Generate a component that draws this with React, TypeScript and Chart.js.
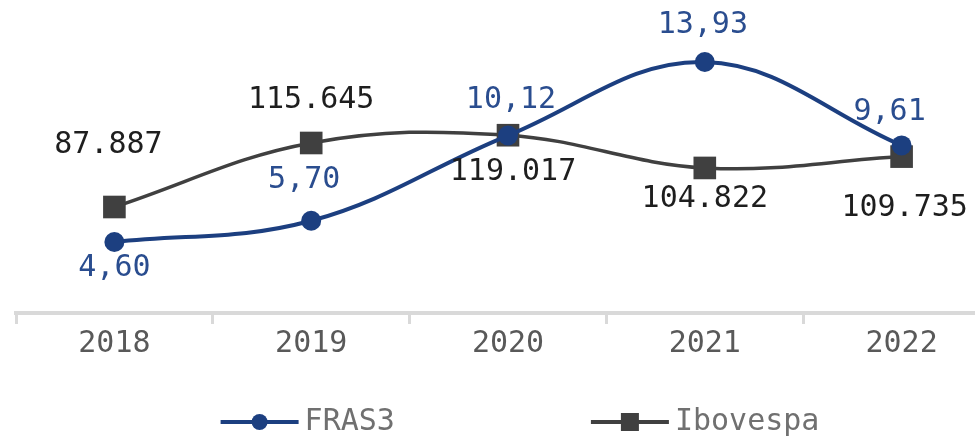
import React, { useEffect, useRef } from "react";
import { Chart, registerables } from "chart.js";

Chart.register(...registerables);

const categories = ["2018", "2019", "2020", "2021", "2022"];
const fras3Values = [4.6, 5.7, 10.12, 13.93, 9.61];
const ibovespaValues = [87887, 115645, 119017, 104822, 109735];
const fras3Labels = ["4,60", "5,70", "10,12", "13,93", "9,61"];
const ibovespaLabels = ["87.887", "115.645", "119.017", "104.822", "109.735"];

const BLUE = "#1c3f80";
const GRAY = "#404040";
const FONT = "'DejaVu Sans Mono', monospace";

// label placement offsets (style, not data)
const fras3LabelDx = [0, -7, 3, -2, -12];
const fras3LabelDy = [26, -41, -35, -37, -33];
const iboLabelDx = [-6, 0, 5, 0, 3];
const iboLabelDy = [-62, -43, 37, 31, 52];

const labelPlugin = {
  id: "valueLabels",
  afterDatasetsDraw(chart: any) {
    const ctx = chart.ctx;
    ctx.save();
    ctx.font = `30px ${FONT}`;
    ctx.textAlign = "center";
    ctx.textBaseline = "middle";
    const cfgs = [
      { labels: fras3Labels, dx: fras3LabelDx, dy: fras3LabelDy, color: "#2a4d8f" },
      { labels: ibovespaLabels, dx: iboLabelDx, dy: iboLabelDy, color: "#1e1e1e" },
    ];
    cfgs.forEach((c, di) => {
      const meta = chart.getDatasetMeta(di);
      meta.data.forEach((pt: any, i: number) => {
        ctx.fillStyle = c.color;
        ctx.fillText(c.labels[i], pt.x + c.dx[i], pt.y + c.dy[i]);
      });
    });
    ctx.restore();
  },
};

const legendPlugin = {
  id: "customLegend",
  afterDraw(chart: any) {
    const ctx = chart.ctx;
    ctx.save();
    ctx.font = `30px ${FONT}`;
    ctx.textBaseline = "middle";
    ctx.textAlign = "left";
    const y = 422;
    const lineLen = 78;
    const gap = 6;
    const itemGap = 196;
    const items = [
      { text: "FRAS3", color: BLUE, style: "circle", lw: 4 },
      { text: "Ibovespa", color: GRAY, style: "rect", lw: 4 },
    ];
    const widths = items.map((it) => lineLen + gap + ctx.measureText(it.text).width);
    const total = widths.reduce((a, b) => a + b, 0) + itemGap * (items.length - 1);
    let x = 520 - total / 2;
    items.forEach((it, i) => {
      ctx.strokeStyle = it.color;
      ctx.lineWidth = it.lw;
      ctx.beginPath();
      ctx.moveTo(x, y);
      ctx.lineTo(x + lineLen, y);
      ctx.stroke();
      ctx.fillStyle = it.color;
      const cx = x + lineLen / 2;
      if (it.style === "circle") {
        ctx.beginPath();
        ctx.arc(cx, y, 8, 0, Math.PI * 2);
        ctx.fill();
      } else {
        ctx.fillRect(cx - 9, y - 9, 18, 18);
      }
      ctx.fillStyle = "#707070";
      ctx.fillText(it.text, x + lineLen + gap, y);
      x += widths[i] + itemGap;
    });
    ctx.restore();
  },
};

export default function App() {
  const ref = useRef<HTMLCanvasElement>(null);
  useEffect(() => {
    document.body.style.overflow = "hidden";
    document.documentElement.style.overflow = "hidden";
    const chart = new Chart(ref.current!, {
      type: "line",
      data: {
        labels: categories,
        datasets: [
          {
            label: "FRAS3",
            data: fras3Values,
            borderColor: BLUE,
            backgroundColor: BLUE,
            borderWidth: 4,
            pointStyle: "circle",
            pointRadius: 10,
            pointBorderWidth: 0,
            tension: 0.38,
            yAxisID: "y",
            clip: false,
          },
          {
            label: "Ibovespa",
            data: ibovespaValues,
            borderColor: GRAY,
            backgroundColor: GRAY,
            borderWidth: 3.5,
            pointStyle: "rect",
            pointRadius: 16,
            pointBorderWidth: 0,
            tension: 0.38,
            yAxisID: "y1",
            clip: false,
          },
        ],
      },
      options: {
        animation: false,
        responsive: false,
        devicePixelRatio: 1,
        layout: { padding: { top: 20, left: 16, right: 0, bottom: 72 } },
        plugins: { legend: { display: false }, tooltip: { enabled: false } },
        scales: {
          x: {
            offset: true,
            grid: {
              display: true,
              drawOnChartArea: false,
              drawTicks: true,
              tickLength: 11,
              color: "#d9d9d9",
              lineWidth: 3,
              offset: true,
            },
            border: { display: true, color: "#d9d9d9", width: 4 },
            ticks: {
              color: "#595959",
              font: { family: FONT, size: 30 },
              padding: 2,
            },
          },
          y: { display: false, min: 0.92, max: 16.11 },
          y1: { display: false, min: 41920, max: 168980 },
        },
      },
      plugins: [labelPlugin, legendPlugin],
    });
    return () => chart.destroy();
  }, []);
  return (
    <div style={{ position: "absolute", left: 0, top: 0, width: 975, height: 436, overflow: "hidden" }}>
      <canvas ref={ref} width={1016} height={436} style={{ display: "block" }} />
    </div>
  );
}
